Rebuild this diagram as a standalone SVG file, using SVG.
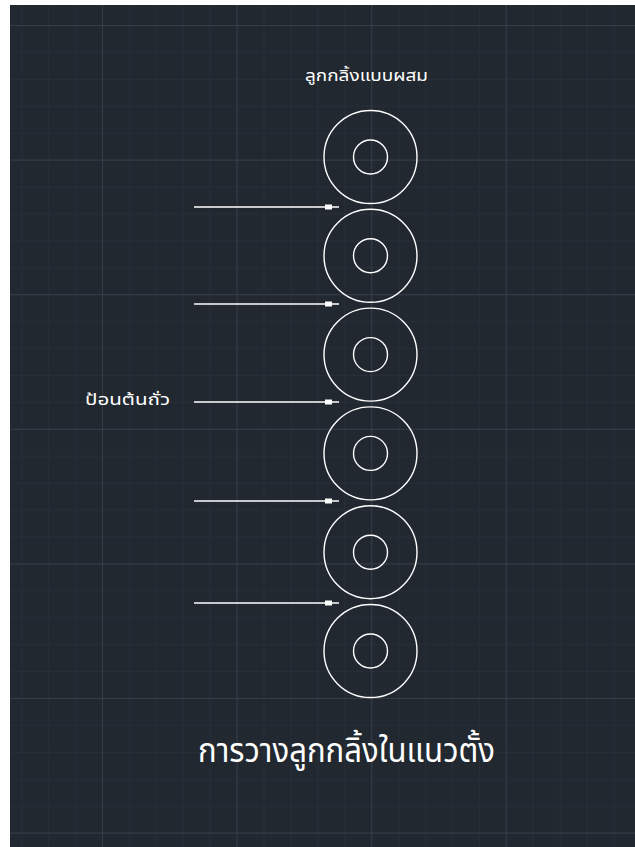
<svg xmlns="http://www.w3.org/2000/svg" width="635" height="847" viewBox="0 0 635 847">
<defs>
<pattern id="minor" patternUnits="userSpaceOnUse" x="102" y="25" width="26.92" height="26.92">
<path d="M0 0V26.92M0 0H26.92" fill="none" stroke="#29303a" stroke-width="1.5"/>
</pattern>
<pattern id="major" patternUnits="userSpaceOnUse" x="102" y="25" width="134.6" height="134.6">
<path d="M0 0V134.6M0 0H134.6" fill="none" stroke="#3b424c" stroke-width="1.5"/>
</pattern>
<marker id="sq" markerUnits="userSpaceOnUse" viewBox="0 0 14 6" refX="14" refY="3" markerWidth="14" markerHeight="6" orient="auto">
<rect x="0" y="0.5" width="7" height="5" fill="#ffffff"/>
</marker>
</defs>
<style>
.roll{fill:none;stroke:#ffffff;stroke-width:1.4}
.feed{stroke:#ffffff;stroke-width:1.5;fill:none;marker-end:url(#sq)}
.lbl{fill:#ffffff;font-family:"Noto Sans Thai","Noto Sans","DejaVu Sans",sans-serif}
</style>
<rect x="0" y="0" width="635" height="847" fill="#ffffff"/>
<rect x="10" y="5" width="625" height="842" fill="#212830"/>
<rect x="10" y="5" width="625" height="842" fill="url(#minor)"/>
<rect x="10" y="5" width="625" height="842" fill="url(#major)"/>

<g id="roller1"><circle class="roll" cx="370.5" cy="157" r="46.5"/><circle class="roll" cx="370.5" cy="157" r="17"/></g>
<g id="roller2"><circle class="roll" cx="370.5" cy="255.8" r="46.5"/><circle class="roll" cx="370.5" cy="255.8" r="17"/></g>
<g id="roller3"><circle class="roll" cx="370.5" cy="354.6" r="46.5"/><circle class="roll" cx="370.5" cy="354.6" r="17"/></g>
<g id="roller4"><circle class="roll" cx="370.5" cy="453.4" r="46.5"/><circle class="roll" cx="370.5" cy="453.4" r="17"/></g>
<g id="roller5"><circle class="roll" cx="370.5" cy="552.2" r="46.5"/><circle class="roll" cx="370.5" cy="552.2" r="17"/></g>
<g id="roller6"><circle class="roll" cx="370.5" cy="651" r="46.5"/><circle class="roll" cx="370.5" cy="651" r="17"/></g>

<g id="connectors">
<line class="feed" x1="194" y1="207" x2="339" y2="207"/>
<line class="feed" x1="194" y1="304" x2="339" y2="304"/>
<line class="feed" x1="194" y1="402" x2="339" y2="402"/>
<line class="feed" x1="194" y1="501" x2="339" y2="501"/>
<line class="feed" x1="194" y1="603" x2="339" y2="603"/>
</g>

<g id="title-top"><text class="lbl" x="305" y="81" font-size="16" textLength="123" lengthAdjust="spacingAndGlyphs">ลูกกลิ้งแบบผสม</text></g>
<g id="label-feed"><text class="lbl" x="85" y="405" font-size="15" textLength="85" lengthAdjust="spacingAndGlyphs">ป้อนต้นถั่ว</text></g>
<g id="caption"><text class="lbl" x="198" y="762" font-size="34" textLength="297" lengthAdjust="spacingAndGlyphs">การวางลูกกลิ้งในแนวตั้ง</text></g>
</svg>
